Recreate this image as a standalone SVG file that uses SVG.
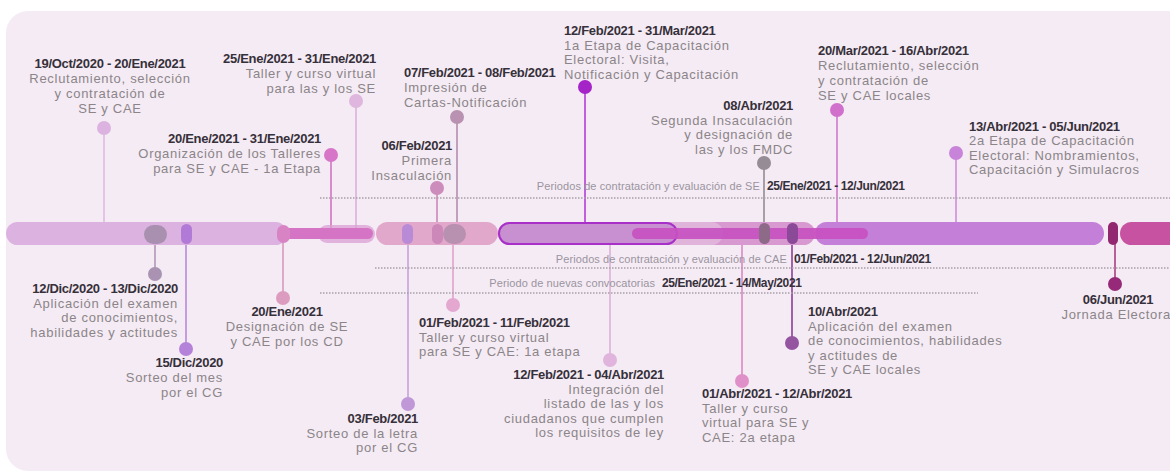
<svg xmlns="http://www.w3.org/2000/svg" width="1170" height="472" viewBox="0 0 1170 472">
<style>
.d{font-family:"Liberation Sans",Arial,sans-serif;font-weight:bold;font-size:13px;fill:#35303a;letter-spacing:-0.3px}
.t{font-family:"Liberation Sans",Arial,sans-serif;font-size:13px;fill:#8b8589;letter-spacing:0.7px}
.pt{font-family:"Liberation Sans",Arial,sans-serif;font-size:11px;fill:#9a94a0;letter-spacing:0.1px}
.pd{font-family:"Liberation Sans",Arial,sans-serif;font-weight:bold;font-size:12px;fill:#35303a;letter-spacing:-0.4px}
.e{text-anchor:end}
.m{text-anchor:middle}
.st{stroke-width:2;fill:none}
.dot{stroke:none}
.dl{stroke:#a8a0a8;stroke-width:1.5;stroke-dasharray:1.5 1.5;fill:none}
</style>
<rect x="6" y="11" width="1200" height="460" rx="22" fill="#f5ebf4"/>

<g id="connectors">
<line class="st" x1="104" y1="128" x2="104" y2="224" stroke="#e2c4e6"/>
<line class="st" x1="331" y1="155" x2="331" y2="230" stroke="#d98ccd"/>
<line class="st" x1="356" y1="101" x2="356" y2="228" stroke="#e0bce0"/>
<line class="st" x1="437" y1="188" x2="437" y2="226" stroke="#d49cc4"/>
<line class="st" x1="457" y1="117" x2="457" y2="226" stroke="#c0a0bc"/>
<line class="st" x1="585" y1="87" x2="585" y2="224" stroke="#c060dc"/>
<line class="st" x1="764" y1="163" x2="764" y2="226" stroke="#a89ea8"/>
<line class="st" x1="837" y1="110" x2="837" y2="230" stroke="#d890d4"/>
<line class="st" x1="956" y1="153" x2="956" y2="224" stroke="#d4a0e0"/>
<line class="st" x1="155" y1="240" x2="155" y2="274" stroke="#c0a8c4"/>
<line class="st" x1="186" y1="240" x2="186" y2="349" stroke="#c49ce0"/>
<line class="st" x1="283" y1="240" x2="283" y2="298" stroke="#dcaac8"/>
<line class="st" x1="408" y1="240" x2="408" y2="404" stroke="#d0b0e0"/>
<line class="st" x1="453" y1="240" x2="453" y2="305" stroke="#e4b0d4"/>
<line class="st" x1="610" y1="240" x2="610" y2="360" stroke="#e2bcdc"/>
<line class="st" x1="742" y1="240" x2="742" y2="381" stroke="#e09ccc"/>
<line class="st" x1="792" y1="240" x2="792" y2="343" stroke="#a060ac"/>
<line class="st" x1="1115" y1="240" x2="1115" y2="284" stroke="#b86098"/>
</g>

<g id="periods">
<g id="p-se">
<line class="dl" x1="320" y1="198" x2="1170" y2="198"/>
<text class="pt e" x="760" y="190">Periodos de contratación y evaluación de SE</text>
<text class="pd" x="767" y="190">25/Ene/2021 - 12/Jun/2021</text>
</g>
<g id="p-cae">
<line class="dl" x1="375" y1="268" x2="1170" y2="268"/>
<text class="pt e" x="787" y="263">Periodos de contratación y evaluación de CAE</text>
<text class="pd" x="794" y="263">01/Feb/2021 - 12/Jun/2021</text>
</g>
<g id="p-conv">
<line class="dl" x1="320" y1="293" x2="978" y2="293"/>
<text class="pt e" x="655" y="287">Periodo de nuevas convocatorias</text>
<text class="pd" x="662" y="287">25/Ene/2021 - 14/May/2021</text>
</g>
</g>

<g id="bar">
<rect x="6" y="222" width="281" height="23" rx="11.5" fill="#dcb2e0"/>
<rect x="376" y="222" width="122" height="23" rx="11.5" fill="#e2a8cc"/>
<rect x="677" y="222" width="138" height="23" rx="11.5" fill="#d898d0"/>
<rect x="498" y="222" width="225" height="23" rx="11.5" fill="#e0b4da"/>
<rect x="499" y="223" width="178" height="21" rx="10.5" fill="#c890d0" stroke="#a830c8" stroke-width="2"/>
<rect x="815" y="222" width="289" height="23" rx="11.5" fill="#c47fd8"/>
<rect x="1120" y="222" width="100" height="23" rx="11.5" fill="#c852a2"/>
</g>

<g id="e1"><circle class="dot" cx="104" cy="128" r="7" fill="#dcb2e0"/>
<text class="d m" x="110" y="68">19/Oct/2020 - 20/Ene/2021</text>
<text class="t m" x="110" y="83">Reclutamiento, selección</text>
<text class="t m" x="110" y="98">y contratación de</text>
<text class="t m" x="110" y="113">SE y CAE</text></g>

<g id="e3"><rect x="318" y="225" width="57" height="18" rx="9" fill="#d9a0d4" opacity="0.75"/>
<circle class="dot" cx="356" cy="101" r="7" fill="#deb6de"/>
<text class="d e" x="376" y="63">25/Ene/2021 - 31/Ene/2021</text>
<text class="t e" x="376" y="78">Taller y curso virtual</text>
<text class="t e" x="376" y="93">para las y los SE</text></g>

<g id="e2"><rect x="280" y="228" width="93" height="11" rx="5.5" fill="#d573c5"/>
<circle class="dot" cx="331" cy="155" r="7" fill="#d776c8"/>
<text class="d e" x="321" y="143">20/Ene/2021 - 31/Ene/2021</text>
<text class="t e" x="321" y="158">Organización de los Talleres</text>
<text class="t e" x="321" y="172.5">para SE y CAE - 1a Etapa</text></g>

<g id="e4"><rect x="432" y="224" width="11" height="20" rx="5.5" fill="#cb88b8"/>
<circle class="dot" cx="437" cy="188" r="7" fill="#cc8cbc"/>
<text class="d e" x="452" y="150">06/Feb/2021</text>
<text class="t e" x="452" y="165">Primera</text>
<text class="t e" x="452" y="180">Insaculación</text></g>

<g id="e5"><rect x="443" y="224" width="23" height="20" rx="10" fill="#b890b0"/>
<circle class="dot" cx="457" cy="117" r="7" fill="#b992b2"/>
<text class="d" x="404" y="77">07/Feb/2021 - 08/Feb/2021</text>
<text class="t" x="404" y="92">Impresión de</text>
<text class="t" x="404" y="107">Cartas-Notificación</text></g>

<g id="e6"><circle class="dot" cx="585" cy="87" r="7" fill="#a424c8"/>
<text class="d" x="564" y="35">12/Feb/2021 - 31/Mar/2021</text>
<text class="t" x="564" y="49.5">1a Etapa de Capacitación</text>
<text class="t" x="564" y="64">Electoral: Visita,</text>
<text class="t" x="564" y="78.5">Notificación y Capacitación</text></g>

<g id="e8"><rect x="632" y="228" width="236" height="11" rx="5.5" fill="#c850c0" opacity="0.9"/>
<circle class="dot" cx="837" cy="110" r="7" fill="#d070cc"/>
<text class="d" x="818" y="55">20/Mar/2021 - 16/Abr/2021</text>
<text class="t" x="818" y="70">Reclutamiento, selección</text>
<text class="t" x="818" y="85">y contratación de</text>
<text class="t" x="818" y="99.5">SE y CAE locales</text></g>

<g id="e7"><rect x="759" y="223" width="11" height="21" rx="5.5" fill="#8c6a88"/>
<circle class="dot" cx="764" cy="163" r="7" fill="#958c96"/>
<text class="d e" x="793" y="110">08/Abr/2021</text>
<text class="t e" x="793" y="124.5">Segunda Insaculación</text>
<text class="t e" x="793" y="139">y designación de</text>
<text class="t e" x="793" y="153.5">las y los FMDC</text></g>

<g id="e9"><circle class="dot" cx="956" cy="153" r="7" fill="#c884d8"/>
<text class="d" x="969" y="131">13/Abr/2021 - 05/Jun/2021</text>
<text class="t" x="969" y="145">2a Etapa de Capacitación</text>
<text class="t" x="969" y="159.5">Electoral: Nombramientos,</text>
<text class="t" x="969" y="174">Capacitación y Simulacros</text></g>

<g id="e10"><rect x="144" y="225" width="23" height="19" rx="9.5" fill="#a990b0"/>
<circle class="dot" cx="155" cy="274" r="7" fill="#a992b2"/>
<text class="d e" x="178" y="293">12/Dic/2020 - 13/Dic/2020</text>
<text class="t e" x="178" y="307.5">Aplicación del examen</text>
<text class="t e" x="178" y="322">de conocimientos,</text>
<text class="t e" x="178" y="336.5">habilidades y actitudes</text></g>

<g id="e11"><rect x="181" y="224" width="11" height="20" rx="5.5" fill="#b07ad6"/>
<circle class="dot" cx="186" cy="349" r="7" fill="#b482d8"/>
<text class="d e" x="223" y="367">15/Dic/2020</text>
<text class="t e" x="223" y="382">Sorteo del mes</text>
<text class="t e" x="223" y="396.5">por el CG</text></g>

<g id="e12"><rect x="277" y="225" width="13" height="18" rx="6.5" fill="#d884c4"/>
<circle class="dot" cx="283" cy="298" r="7" fill="#dc9cc0"/>
<text class="d m" x="287" y="316">20/Ene/2021</text>
<text class="t m" x="287" y="331">Designación de SE</text>
<text class="t m" x="287" y="345.5">y CAE por los CD</text></g>

<g id="e13"><rect x="402" y="224" width="11" height="20" rx="5.5" fill="#b98ad6"/>
<circle class="dot" cx="408" cy="404" r="7" fill="#c098d8"/>
<text class="d e" x="418" y="423">03/Feb/2021</text>
<text class="t e" x="418" y="437.5">Sorteo de la letra</text>
<text class="t e" x="418" y="452">por el CG</text></g>

<g id="e14"><circle class="dot" cx="453" cy="305" r="7" fill="#e4a8d0"/>
<text class="d" x="419" y="327">01/Feb/2021 - 11/Feb/2021</text>
<text class="t" x="419" y="341.5">Taller y curso virtual</text>
<text class="t" x="419" y="356">para SE y CAE: 1a etapa</text></g>

<g id="e15"><circle class="dot" cx="610" cy="360" r="7" fill="#e0b4dc"/>
<text class="d e" x="664" y="379">12/Feb/2021 - 04/Abr/2021</text>
<text class="t e" x="664" y="393.5">Integración del</text>
<text class="t e" x="664" y="408">listado de las y los</text>
<text class="t e" x="664" y="422.5">ciudadanos que cumplen</text>
<text class="t e" x="664" y="437">los requisitos de ley</text></g>

<g id="e16"><circle class="dot" cx="742" cy="381" r="7" fill="#e090c8"/>
<text class="d" x="702" y="398">01/Abr/2021 - 12/Abr/2021</text>
<text class="t" x="702" y="412.5">Taller y curso</text>
<text class="t" x="702" y="427">virtual para SE y</text>
<text class="t" x="702" y="441.5">CAE: 2a etapa</text></g>

<g id="e17"><rect x="787" y="223" width="11" height="21" rx="5.5" fill="#8a4a98"/>
<circle class="dot" cx="792" cy="343" r="7" fill="#9454a0"/>
<text class="d" x="808" y="316">10/Abr/2021</text>
<text class="t" x="808" y="330.5">Aplicación del examen</text>
<text class="t" x="808" y="345">de conocimientos, habilidades</text>
<text class="t" x="808" y="359.5">y actitudes de</text>
<text class="t" x="808" y="374">SE y CAE locales</text></g>

<g id="e18"><rect x="1108" y="222" width="10" height="23" rx="5" fill="#922870"/>
<circle class="dot" cx="1115" cy="284" r="7" fill="#962a78"/>
<text class="d m" x="1118" y="304">06/Jun/2021</text>
<text class="t m" x="1118" y="318.5">Jornada Electoral</text></g>
</svg>
